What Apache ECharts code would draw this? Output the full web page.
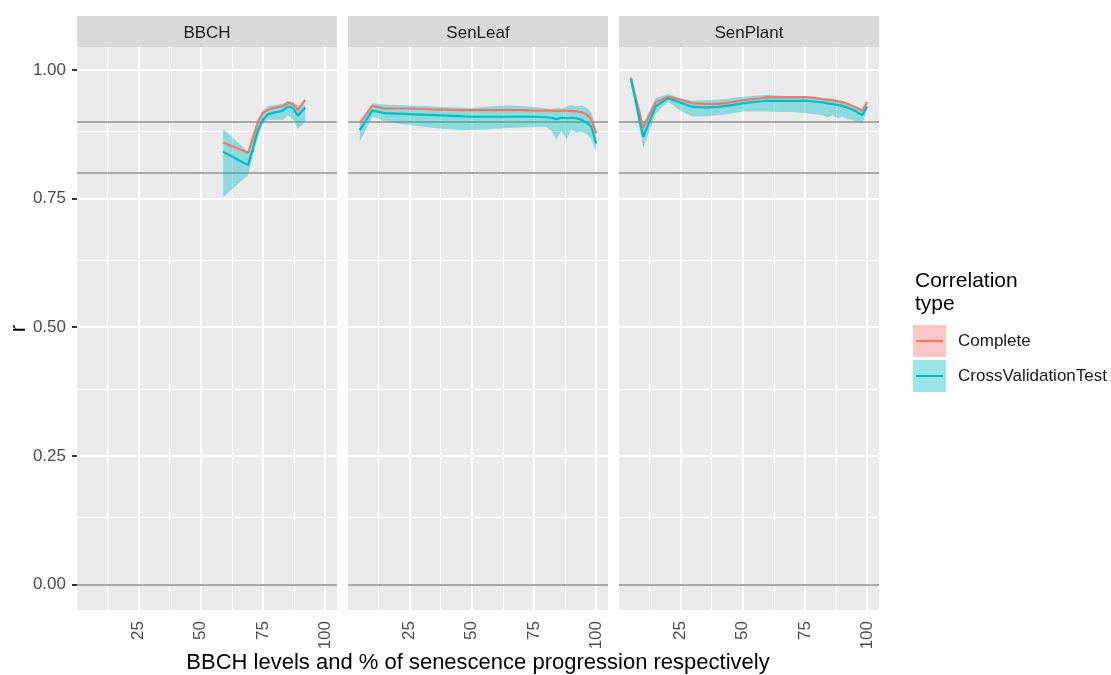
<!DOCTYPE html>
<html><head><meta charset="utf-8">
<script src="https://cdn.jsdelivr.net/npm/echarts@6/dist/echarts.min.js"></script>
<style>html,body{margin:0;padding:0;background:#fff}#c{width:1111px;height:675px}</style>
</head><body><div id="c"></div>
<script>
// ---------- data ----------
const panelNames = ['BBCH', 'SenLeaf', 'SenPlant'];
const seriesNames = ['Complete', 'CrossValidationTest'];

const bbchX        = [59, 69, 73, 75, 77, 83, 85, 87, 89, 92];
const bbchComplete = [0.859, 0.839, 0.899, 0.916, 0.923, 0.930, 0.936, 0.934, 0.922, 0.942];
const bbchCV       = [0.841, 0.815, 0.883, 0.903, 0.914, 0.921, 0.929, 0.926, 0.911, 0.927];
const bbchCVHigh   = [0.885, 0.841, 0.904, 0.922, 0.930, 0.934, 0.940, 0.937, 0.932, 0.932];
const bbchCVLow    = [0.753, 0.796, 0.870, 0.896, 0.903, 0.903, 0.912, 0.905, 0.885, 0.899];

const leafX        = [5, 10, 15, 20, 25, 30, 35, 40, 45, 50, 55, 60, 65, 70, 75, 80, 82, 84, 86, 88, 90, 92, 94, 96, 98, 100];
const leafComplete = [0.897, 0.930, 0.925, 0.925, 0.925, 0.924, 0.923, 0.923, 0.922, 0.922, 0.922, 0.922, 0.922, 0.922, 0.921, 0.921, 0.921, 0.920, 0.921, 0.921, 0.920, 0.920, 0.918, 0.914, 0.905, 0.877];
const leafCV       = [0.883, 0.921, 0.916, 0.915, 0.914, 0.913, 0.912, 0.911, 0.910, 0.909, 0.909, 0.909, 0.909, 0.909, 0.909, 0.908, 0.907, 0.904, 0.907, 0.906, 0.907, 0.906, 0.903, 0.898, 0.890, 0.857];
const leafCVHigh   = [0.899, 0.935, 0.933, 0.932, 0.931, 0.930, 0.929, 0.928, 0.927, 0.926, 0.928, 0.930, 0.931, 0.930, 0.928, 0.925, 0.924, 0.926, 0.925, 0.929, 0.932, 0.929, 0.931, 0.927, 0.918, 0.883];
const leafCVLow    = [0.861, 0.909, 0.900, 0.896, 0.893, 0.890, 0.887, 0.885, 0.883, 0.883, 0.884, 0.886, 0.887, 0.888, 0.889, 0.889, 0.882, 0.864, 0.882, 0.865, 0.884, 0.878, 0.880, 0.876, 0.866, 0.841];

const plantX        = [5, 10, 15, 20, 25, 30, 35, 40, 45, 50, 55, 60, 65, 70, 75, 80, 82, 84, 86, 88, 90, 92, 94, 96, 98, 100];
const plantComplete = [0.985, 0.887, 0.937, 0.948, 0.942, 0.935, 0.934, 0.934, 0.937, 0.941, 0.944, 0.947, 0.947, 0.947, 0.947, 0.945, 0.943, 0.942, 0.941, 0.939, 0.937, 0.934, 0.930, 0.926, 0.920, 0.938];
const plantCV       = [0.983, 0.870, 0.929, 0.945, 0.936, 0.928, 0.927, 0.928, 0.931, 0.935, 0.938, 0.940, 0.940, 0.940, 0.940, 0.938, 0.937, 0.935, 0.934, 0.932, 0.930, 0.927, 0.923, 0.918, 0.912, 0.929];
const plantCVHigh   = [0.988, 0.896, 0.945, 0.953, 0.945, 0.940, 0.941, 0.942, 0.945, 0.948, 0.950, 0.951, 0.950, 0.949, 0.948, 0.947, 0.946, 0.945, 0.944, 0.942, 0.940, 0.936, 0.932, 0.928, 0.925, 0.938];
const plantCVLow    = [0.978, 0.848, 0.916, 0.938, 0.920, 0.909, 0.910, 0.912, 0.915, 0.919, 0.919, 0.919, 0.918, 0.918, 0.916, 0.913, 0.912, 0.908, 0.912, 0.906, 0.909, 0.904, 0.903, 0.898, 0.896, 0.922];

const xTicks = [25, 50, 75, 100];
const xMinor = [12.5, 37.5, 62.5, 87.5];
const yTicks = [0, 0.25, 0.5, 0.75, 1];
const yMinor = [0.125, 0.375, 0.625, 0.875];
const refLines = [0.9, 0.8, 0];
const xTitle = 'BBCH levels and % of senescence progression respectively';
const yTitle = 'r';
const legendTitle = 'Correlation\ntype';

// ---------- layout / style ----------
const FONT = '"Liberation Sans", Arial, Helvetica, sans-serif';
const LEFTS = [77, 348, 619], PW = 260, TOP = 47, PH = 563;
const STRIP_TOP = 16;
const RED = '#F8766D', CYAN = '#00BFC4';

const panels = [
  {x: bbchX, comp: bbchComplete, cv: bbchCV, hi: bbchCVHigh, lo: bbchCVLow},
  {x: leafX, comp: leafComplete, cv: leafCV, hi: leafCVHigh, lo: leafCVLow},
  {x: plantX, comp: plantComplete, cv: plantCV, hi: plantCVHigh, lo: plantCVLow}
];

const grid = [], xAxis = [], yAxis = [], series = [], graphic = [];
panels.forEach((p, i) => {
  grid.push({left: LEFTS[i], top: TOP, width: PW, height: PH, show: true,
    backgroundColor: '#EBEBEB', borderWidth: 0, containLabel: false, outerBoundsMode: 'none'});
  xAxis.push({
    type: 'value', gridIndex: i, min: 0.25, max: 104.75,
    axisLine: {show: false},
    axisTick: {show: true, length: 5, lineStyle: {color: '#333333', width: 2}, customValues: xTicks},
    axisLabel: {show: true, customValues: xTicks, rotate: 90, margin: 11, color: '#4D4D4D',
      fontSize: 17, fontFamily: FONT},
    splitLine: {show: false},
    name: i === 1 ? xTitle : '', nameLocation: 'middle', nameGap: 42, nameMoveOverlap: false,
    nameTextStyle: {fontSize: 22, color: '#000', fontFamily: FONT}
  });
  yAxis.push({
    type: 'value', gridIndex: i, min: -0.0495, max: 1.0445,
    axisLine: {show: false},
    axisTick: {show: i === 0, length: 5, lineStyle: {color: '#333333', width: 2}, customValues: yTicks},
    axisLabel: {show: i === 0, customValues: yTicks, margin: 11, color: '#4D4D4D',
      fontSize: 17, fontFamily: FONT, formatter: v => Number(v).toFixed(2)},
    splitLine: {show: false},
    name: i === 0 ? yTitle : '', nameLocation: 'middle', nameGap: 47, nameRotate: 90, nameMoveOverlap: false,
    nameTextStyle: {fontSize: 22, color: '#000', fontFamily: FONT}
  });

  const gridLines = [];
  xTicks.forEach(v => gridLines.push({xAxis: v, lineStyle: {color: '#FFFFFF', width: 2.1, type: 'solid'}}));
  xMinor.forEach(v => gridLines.push({xAxis: v, lineStyle: {color: '#FFFFFF', width: 1.05, type: 'solid'}}));
  yTicks.forEach(v => gridLines.push({yAxis: v, lineStyle: {color: '#FFFFFF', width: 2.1, type: 'solid'}}));
  yMinor.forEach(v => gridLines.push({yAxis: v, lineStyle: {color: '#FFFFFF', width: 1.05, type: 'solid'}}));

  // CV ribbon drawn as a polygon through the axis scales
  series.push({
    type: 'custom', name: seriesNames[1] + ' ribbon', xAxisIndex: i, yAxisIndex: i,
    data: p.x.map((x, k) => [x, p.lo[k], p.hi[k]]),
    encode: {x: 0, y: [1, 2]}, z: 3, silent: true,
    renderItem: (params, api) => {
      if (params.dataIndex !== 0) return null;
      const pts = [];
      for (let k = 0; k < p.x.length; k++) pts.push(api.coord([p.x[k], p.hi[k]]));
      for (let k = p.x.length - 1; k >= 0; k--) pts.push(api.coord([p.x[k], p.lo[k]]));
      return {type: 'polygon', shape: {points: pts}, style: {fill: 'rgba(0,191,196,0.4)', stroke: null}};
    },
    markLine: {silent: true, symbol: ['none', 'none'], label: {show: false}, z: 1,
      animation: false, data: gridLines}
  });
  series.push({
    type: 'line', name: seriesNames[0], xAxisIndex: i, yAxisIndex: i,
    data: p.x.map((x, k) => [x, p.comp[k]]), symbol: 'none', showSymbol: false,
    lineStyle: {color: RED, width: 2.2}, z: 4, silent: true,
    markLine: {silent: true, symbol: ['none', 'none'], label: {show: false}, z: 2, animation: false,
      data: refLines.map(v => ({yAxis: v, lineStyle: {color: '#A9A9A9', width: 2.1, type: 'solid'}}))}
  });
  series.push({
    type: 'line', name: seriesNames[1], xAxisIndex: i, yAxisIndex: i,
    data: p.x.map((x, k) => [x, p.cv[k]]), symbol: 'none', showSymbol: false,
    lineStyle: {color: CYAN, width: 2.2}, z: 4, silent: true
  });

  // facet strip
  graphic.push({type: 'rect', left: LEFTS[i], top: STRIP_TOP, shape: {width: PW, height: TOP - STRIP_TOP},
    style: {fill: '#D9D9D9'}, silent: true});
  graphic.push({type: 'text', x: LEFTS[i] + PW / 2, y: (STRIP_TOP + TOP) / 2 + 2,
    style: {text: panelNames[i], fill: '#1A1A1A', fontSize: 17, fontFamily: FONT,
      textAlign: 'center', textVerticalAlign: 'middle'}, silent: true});
});

// legend (drawn)
const LX = 913;
graphic.push({type: 'text', x: LX + 2, y: 270, style: {text: legendTitle, fill: '#000', fontSize: 21,
  lineHeight: 23, fontFamily: FONT, textAlign: 'left', textVerticalAlign: 'top'}, silent: true});
const keyColors = [{fill: 'rgba(248,118,109,0.4)', line: RED}, {fill: 'rgba(0,191,196,0.4)', line: CYAN}];
seriesNames.forEach((n, k) => {
  const y0 = 325 + k * 35;
  graphic.push({type: 'rect', x: LX, y: y0, shape: {width: 33, height: 32}, style: {fill: keyColors[k].fill}, silent: true});
  graphic.push({type: 'line', shape: {x1: LX + 3, y1: y0 + 16, x2: LX + 30, y2: y0 + 16},
    style: {stroke: keyColors[k].line, lineWidth: 2.2}, silent: true});
  graphic.push({type: 'text', x: 958, y: y0 + 16, style: {text: n, fill: '#1A1A1A', fontSize: 17,
    fontFamily: FONT, textAlign: 'left', textVerticalAlign: 'middle'}, silent: true});
});

const chart = echarts.init(document.getElementById('c'), null, {renderer: 'canvas'});
chart.setOption({
  animation: false,
  backgroundColor: '#FFFFFF',
  textStyle: {fontFamily: FONT},
  grid, xAxis, yAxis, series, graphic
});
</script>
</body></html>
